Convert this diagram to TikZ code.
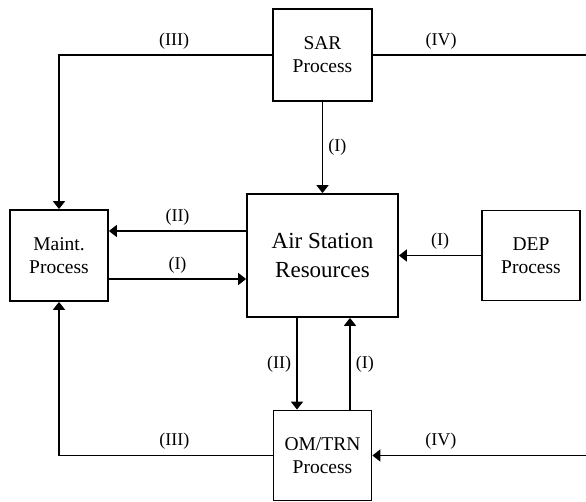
\documentclass[tikz,border=0pt]{standalone}
\usepackage{fontspec}
\setmainfont{Liberation Serif}
\usetikzlibrary{arrows.meta}
\tikzset{
  procbox/.style={draw, line width=1.8pt, align=center, inner sep=0pt,
    font=\fontsize{19.5}{23}\selectfont},
  lbl/.style={font=\fontsize{18}{20}\selectfont, inner sep=2pt},
  flow/.style={line width=1.8pt, -{Triangle[length=8pt,width=12pt]}}
}
\begin{document}
\begin{tikzpicture}[x=1pt,y=-1pt]
  \useasboundingbox (0,0) rectangle (586,502);
  \node [procbox, minimum width=99pt, minimum height=92pt] (sar) at (322.5,55) {SAR\\Process};
  \node [procbox, minimum width=98pt, minimum height=91pt] (maint) at (59,255.5) {Maint.\\Process};
  \node [procbox, minimum width=151pt, minimum height=123pt,
    font=\fontsize{23}{29}\selectfont] (air) at (322.5,255.5) {Air Station\\Resources};
  \node [procbox, minimum width=98pt, minimum height=90pt] (dep) at (531,255.5) {DEP\\Process};
  \node [procbox, minimum width=98pt, minimum height=90pt] (om) at (322.5,455.5) {OM/TRN\\Process};
  \coordinate (sarout) at (586,55);
  \coordinate (omin) at (586,455.5);

  \draw [flow] (sar.west) -| node [lbl, above=3pt, pos=0.23] {(III)} (maint.north);
  \draw [line width=1.8pt] (sar.east) -- node [lbl, above=3pt, pos=0.32] {(IV)} (sarout);
  \draw [flow] (sar) -- node [lbl, right=3pt] {(I)} (air);
  \draw [flow] ([yshift=24.5pt]air.west) -- node [lbl, above=3pt] {(II)} ([yshift=24.5pt]maint.east);
  \draw [flow] ([yshift=-23.5pt]maint.east) -- node [lbl, above=3pt] {(I)} ([yshift=-23.5pt]air.west);
  \draw [flow] (dep) -- node [lbl, above=3pt] {(I)} (air);
  \draw [flow] ([xshift=-25.5pt]air.south) -- node [lbl, left=3pt] {(II)} ([xshift=-25.5pt]om.north);
  \draw [flow] ([xshift=27.5pt]om.north) -- node [lbl, right=3pt] {(I)} ([xshift=27.5pt]air.south);
  \draw [flow] (om.west) -| node [lbl, above=3pt, pos=0.23] {(III)} (maint.south);
  \draw [flow] (omin) -- node [lbl, above=3pt, pos=0.68] {(IV)} (om.east);
\end{tikzpicture}
\end{document}
